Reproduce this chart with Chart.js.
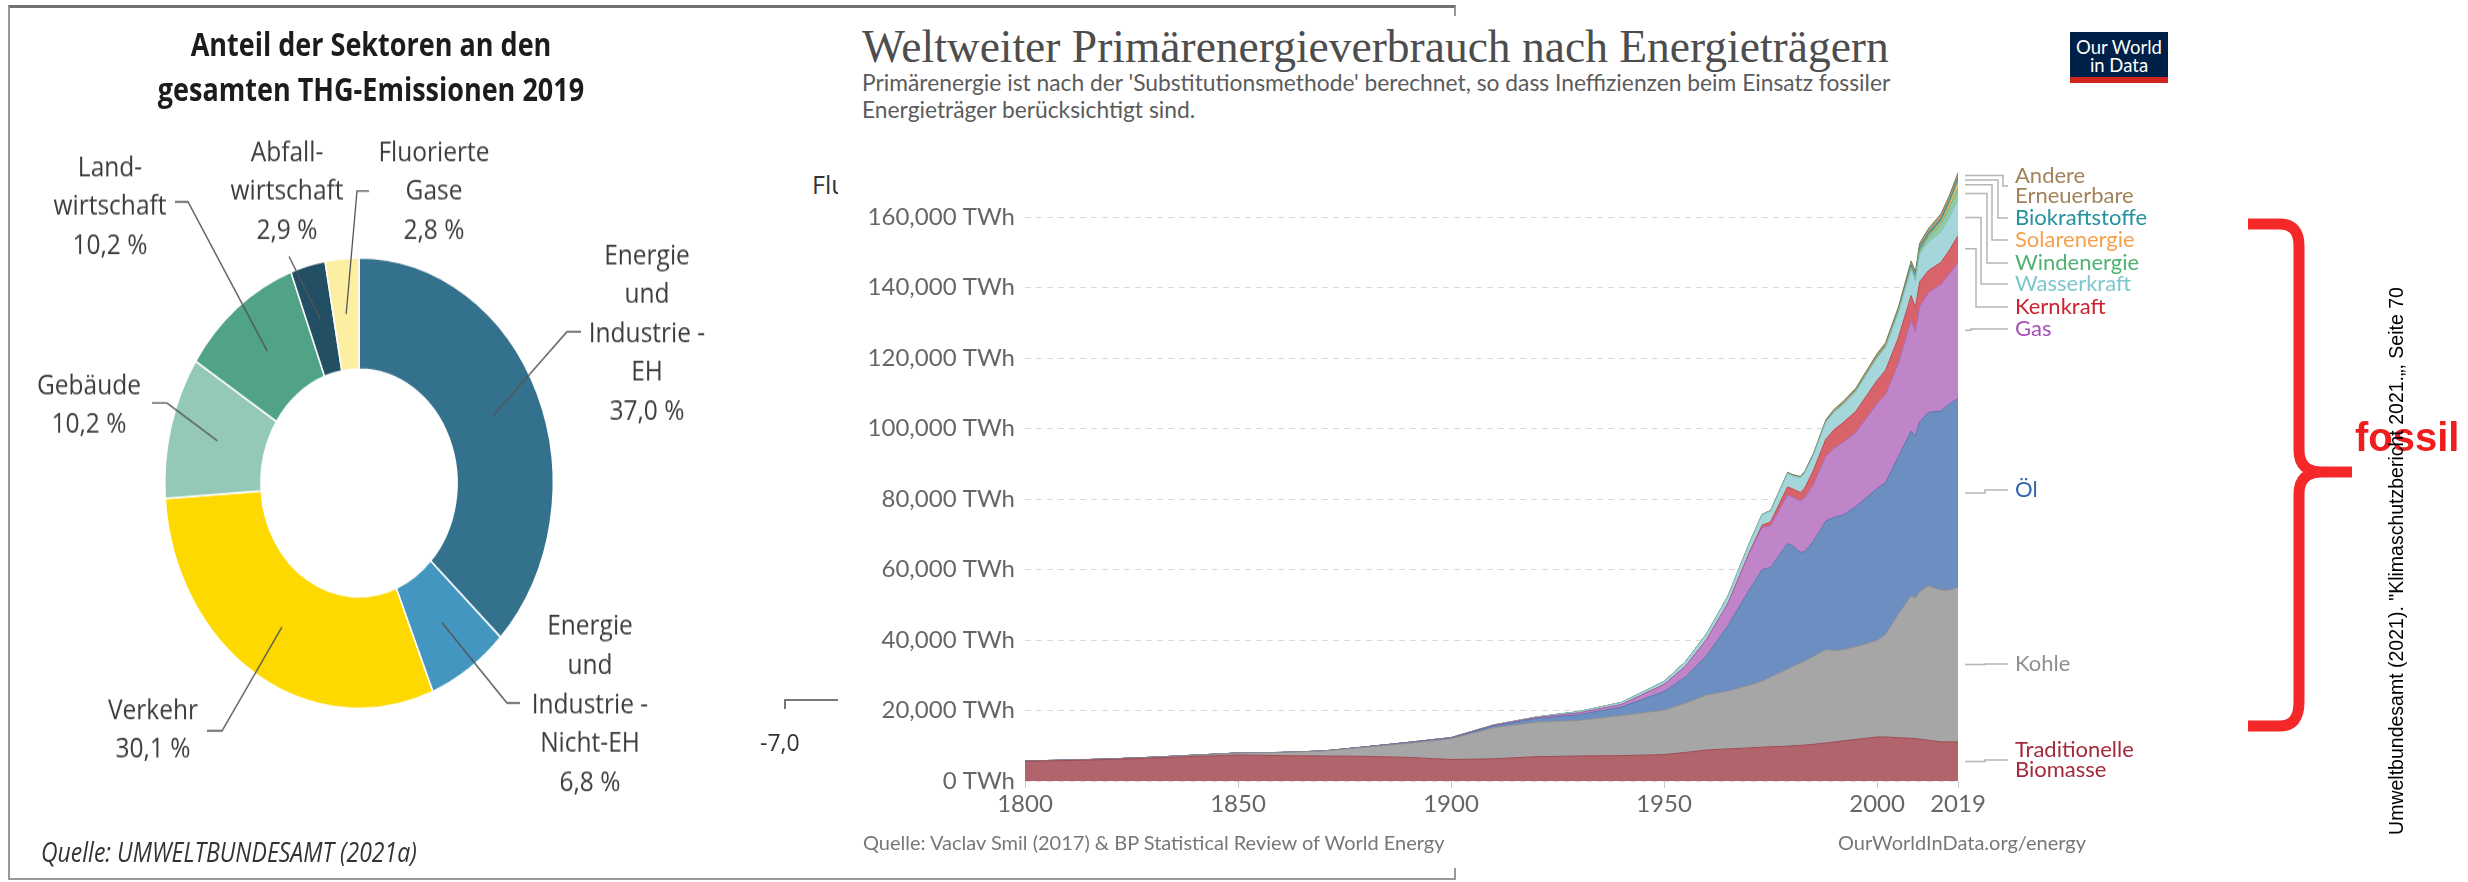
<!DOCTYPE html>
<html lang="de">
<head>
<meta charset="utf-8">
<title>THG-Emissionen und Primärenergieverbrauch</title>
<script src="https://cdn.jsdelivr.net/npm/chart.js@4.4.1/dist/chart.umd.min.js"></script>
<style>
  html, body { margin: 0; padding: 0; background: #fff; }
  body { width: 2468px; height: 882px; position: relative; overflow: hidden; font-family: "Open Sans", sans-serif; }
  .abs { position: absolute; }
  #frame { left: 8px; top: 5px; width: 1448px; height: 875px; box-sizing: border-box;
           border: 2px solid #9a9a9a; border-top: 3px solid #707070; }
  /* the donut picture is stretched vertically in the slide */
  #left { left: 0; top: 0; width: 800px; height: 760px; transform: scaleY(1.16); transform-origin: 0 0; }
  #donutTitle { left: 0; top: 19px; width: 742px; text-align: center; font-weight: 700; font-size: 27px;
                line-height: 38.8px; color: #1c1c1c; }
  #donutSource { left: 41px; top: 720px; font-style: italic; font-size: 23px; line-height: 29px; color: #333; }
  #under1 { left: 812px; top: 168px; font-size: 25px; line-height: 32px; color: #333; white-space: nowrap; }
  #under2 { left: 760px; top: 727px; font-size: 23px; line-height: 30px; color: #333; }
  #underTick { left: 784px; top: 699px; width: 60px; height: 8px; border-top: 2px solid #777; border-left: 2px solid #777; }
  #owidBg { left: 838px; top: 16px; width: 1362px; height: 852px; background: #fff; }
  #owidTitle { left: 862px; top: 21px; font-family: "Liberation Serif", serif; font-size: 45.5px; line-height: 52px; color: #4d4d4d; white-space: nowrap; }
  #owidSub { left: 862px; top: 69px; font-family: Lato, sans-serif; font-size: 22.8px; line-height: 27px; color: #5b5b5b; white-space: nowrap; }
  #logo { left: 2070px; top: 32px; width: 98px; height: 45px; background: #002147; color: #fff; text-align: center;
          font-family: Lato, sans-serif; font-size: 18.5px; line-height: 18px; padding-top: 6px; box-sizing: border-box; }
  #logoBar { left: 2070px; top: 77px; width: 98px; height: 6px; background: #ce261e; }
  #srcL { left: 863px; top: 830px; font-family: Lato, sans-serif; font-size: 20px; line-height: 24px; color: #777; white-space: nowrap; }
  #srcR { left: 1838px; top: 830px; font-family: Lato, sans-serif; font-size: 20px; line-height: 24px; color: #777; white-space: nowrap; }
  #energy { left: 845px; top: 140px; }
  #fossil { left: 2355px; top: 413px; font-family: "Liberation Sans", sans-serif; font-weight: 700; font-size: 40px;
            line-height: 48px; color: #f01d1d; }
  #cite { left: 2096px; top: 549px; width: 600px; height: 24px; text-align: center; transform: rotate(-90deg);
          font-family: "Liberation Sans", sans-serif; font-size: 19.5px; line-height: 24px; color: #000; white-space: nowrap; }
</style>
</head>
<body>

<div id="frame" class="abs"></div>

<div id="left" class="abs">
  <div id="donutTitle" class="abs">Anteil der Sektoren an den<br>gesamten THG-Emissionen 2019</div>
  <canvas id="donut" class="abs" width="800" height="760" style="left:0;top:0"></canvas>
  <div id="donutSource" class="abs">Quelle: UMWELTBUNDESAMT (2021a)</div>
</div>

<div id="under1" class="abs">Fluorierte Gase</div>
<div id="under2" class="abs">-7,0</div>
<div id="underTick" class="abs"></div>

<div id="owidBg" class="abs"></div>
<div id="owidTitle" class="abs">Weltweiter Primärenergieverbrauch nach Energieträgern</div>
<div id="owidSub" class="abs">Primärenergie ist nach der 'Substitutionsmethode' berechnet, so dass Ineffizienzen beim Einsatz fossiler<br>Energieträger berücksichtigt sind.</div>
<div id="logo" class="abs">Our World<br>in Data</div>
<div id="logoBar" class="abs"></div>
<canvas id="energy" class="abs" width="1320" height="700"></canvas>
<div id="srcL" class="abs">Quelle: Vaclav Smil (2017) &amp; BP Statistical Review of World Energy</div>
<div id="srcR" class="abs">OurWorldInData.org/energy</div>

<svg class="abs" style="left:0;top:0" width="2468" height="882">
  <path d="M2248 224 L2280 224 Q2299 224 2299 246 L2299 450 Q2299 472 2322 472 L2352 472 M2322 472 Q2299 472 2299 494 L2299 702 Q2299 726 2280 726 L2248 726"
        fill="none" stroke="#f42828" stroke-width="11" stroke-linejoin="round"/>
</svg>
<div id="fossil" class="abs">fossil</div>
<div id="cite" class="abs">Umweltbundesamt (2021). "Klimaschutzbericht 2021.„, Seite 70</div>

<script>
// Anteil der Sektoren an den THG-Emissionen 2019 (%)
const sectors = ["Energie und Industrie - EH", "Energie und Industrie - Nicht-EH", "Verkehr", "Gebäude",
                 "Landwirtschaft", "Abfallwirtschaft", "Fluorierte Gase"];
const sectorLines = [["Energie", "und", "Industrie -", "EH"], ["Energie", "und", "Industrie -", "Nicht-EH"],
                     ["Verkehr"], ["Gebäude"], ["Land-", "wirtschaft"], ["Abfall-", "wirtschaft"], ["Fluorierte", "Gase"]];
const shares = [37.0, 6.8, 30.1, 10.2, 10.2, 2.9, 2.8];
const sectorColors = ["#34718d", "#4396c0", "#fdd900", "#95c9b7", "#50a386", "#224f63", "#fcefa2"];

// Primärenergieverbrauch nach Energieträgern (TWh)
const years = [1800, 1810, 1820, 1830, 1840, 1850, 1860, 1870, 1880, 1890, 1900, 1910, 1920, 1930, 1940, 1950,
               1955, 1960, 1965, 1970, 1973, 1975, 1979, 1980, 1982, 1983, 1985, 1988, 1990, 1992, 1995,
               2000, 2002, 2005, 2008, 2009, 2010, 2012, 2015, 2017, 2019];
const biomasse = [5600, 5800, 6100, 6500, 7000, 7400, 7200, 7100, 7000, 6700, 6100, 6300, 6900, 7100, 7200, 7500,
                  8100, 8800, 9100, 9400, 9600, 9700, 9900, 10000, 10100, 10200, 10400, 10800, 11100, 11400, 11800,
                  12500, 12500, 12300, 12100, 12000, 11900, 11600, 11100, 11100, 11100];
const kohle = [100, 130, 170, 250, 350, 550, 900, 1400, 2600, 4000, 5900, 8800, 9800, 10100, 11400, 12600,
               14000, 15600, 16400, 17800, 18700, 19800, 21900, 22400, 23400, 23800, 24900, 26500, 25900, 25900, 26300,
               27400, 29100, 35000, 40400, 39900, 41800, 43800, 43100, 43100, 43900];
const oel = [0, 0, 0, 0, 0, 0, 10, 20, 100, 200, 200, 500, 1000, 1600, 2400, 5300,
             7400, 11200, 18600, 27000, 31700, 31100, 35600, 34500, 31400, 31100, 32700, 36500, 37900, 38200, 39800,
             43100, 43100, 44800, 46800, 46000, 48200, 49200, 50800, 52900, 53500];
const gas = [0, 0, 0, 0, 0, 0, 0, 0, 0, 50, 70, 200, 250, 500, 700, 2000,
             3000, 4600, 6300, 10400, 12000, 11900, 13800, 13800, 14600, 15300, 16100, 18500, 19600, 20600, 21000,
             24100, 25000, 26500, 31500, 29600, 32700, 33900, 36000, 36800, 38800];
const kernkraft = [0, 0, 0, 0, 0, 0, 0, 0, 0, 0, 0, 0, 0, 0, 0, 0,
                   0, 10, 60, 240, 600, 1000, 2300, 2300, 2400, 2700, 3900, 4800, 5300, 5600, 6000,
                   6600, 6900, 7200, 7000, 6900, 7100, 6300, 6200, 6800, 7500];
const wasserkraft = [0, 0, 0, 0, 0, 0, 0, 0, 0, 20, 50, 100, 200, 400, 600, 900,
                     1300, 1600, 2000, 2500, 2950, 3100, 3800, 3700, 4150, 4300, 4200, 4800, 5000, 5100, 5600,
                     6400, 6500, 7100, 7500, 7600, 7900, 8100, 8600, 9200, 10300];
const wind = [0, 0, 0, 0, 0, 0, 0, 0, 0, 0, 0, 0, 0, 0, 0, 0,
              0, 0, 0, 0, 0, 0, 0, 0, 0, 0, 0, 0, 10, 15, 20,
              100, 160, 280, 550, 700, 900, 1400, 2200, 2900, 3300];
const solar = [0, 0, 0, 0, 0, 0, 0, 0, 0, 0, 0, 0, 0, 0, 0, 0,
               0, 0, 0, 0, 0, 0, 0, 0, 0, 0, 0, 0, 0, 0, 1,
               3, 5, 10, 30, 50, 100, 250, 600, 1000, 1600];
const biokraftstoffe = [0, 0, 0, 0, 0, 0, 0, 0, 0, 0, 0, 0, 0, 0, 0, 0,
                        0, 0, 0, 0, 0, 5, 20, 30, 50, 60, 80, 90, 100, 110, 150,
                        150, 180, 300, 600, 700, 800, 850, 950, 1000, 1100];
const andere = [0, 0, 0, 0, 0, 0, 0, 0, 0, 0, 0, 0, 0, 0, 0, 0,
                20, 40, 50, 150, 150, 200, 300, 300, 350, 400, 500, 600, 700, 750, 800,
                900, 950, 1000, 1100, 1150, 1200, 1300, 1400, 1450, 1500];

const seriesNames = ["Traditionelle Biomasse", "Kohle", "Öl", "Gas", "Kernkraft", "Wasserkraft",
                     "Windenergie", "Solarenergie", "Biokraftstoffe", "Andere Erneuerbare"];
const seriesValues = [biomasse, kohle, oel, gas, kernkraft, wasserkraft, wind, solar, biokraftstoffe, andere];
const fillColors = ["#b1646b", "#a6a6a6", "#6d8ec0", "#c084c9", "#d8636a", "#a5d6da", "#8fcb9f", "#f7c06e", "#4ea6b0", "#b59a72"];
const lineColors = ["#9c4a53", "#8e8e8e", "#5877ab", "#a866b2", "#c24a52", "#86c0c6", "#69b180", "#e9a243", "#2f8d99", "#767a4e"];
const labelColors = ["#a32a3b", "#8f8f8f", "#3663ad", "#a651b9", "#cf2230", "#7cc6ce", "#4fb271", "#f5a14a", "#24929e", "#a2825b"];

const xTicks = [1800, 1850, 1900, 1950, 2000, 2019];
const yTicks = [0, 20000, 40000, 60000, 80000, 100000, 120000, 140000, 160000];

// label placement (pixels) for the donut: text centre + leader start/elbow
const donutLayout = [
  { x: 647, y: 220.7, from: [581, 286], elbow: [567, 286] },
  { x: 590, y: 540.5, from: [520, 606], elbow: [507, 606] },
  { x: 153, y: 612.9, from: [207, 630], elbow: [222, 630] },
  { x: 89,  y: 332.8, from: [152, 347.4], elbow: [167, 347.4] },
  { x: 110, y: 144.8, from: [175, 174], elbow: [188, 174] },
  { x: 287, y: 131.9, from: [289, 221], elbow: null },
  { x: 434, y: 131.9, from: [369, 164.7], elbow: [357, 164.7] }
];

const donutLabels = {
  id: "donutLabels",
  afterDraw(chart) {
    const ctx = chart.ctx;
    const arcs = chart.getDatasetMeta(0).data;
    ctx.save();
    ctx.strokeStyle = "#555";
    ctx.lineWidth = 1.3;
    ctx.font = "24.5px 'Open Sans'";
    ctx.fillStyle = "#3c3c3c";
    ctx.textAlign = "center";
    ctx.textBaseline = "middle";
    arcs.forEach((arc, i) => {
      const p = arc.tooltipPosition();
      const L = donutLayout[i];
      ctx.beginPath();
      ctx.moveTo(L.from[0], L.from[1]);
      if (L.elbow) ctx.lineTo(L.elbow[0], L.elbow[1]);
      ctx.lineTo(p.x, p.y);
      ctx.stroke();
      const lines = sectorLines[i].concat([shares[i].toFixed(1).replace(".", ",") + " %"]);
      lines.forEach((t, k) => ctx.fillText(t, L.x, L.y + k * 33.6));
    });
    ctx.restore();
  }
};

new Chart(document.getElementById("donut"), {
  type: "doughnut",
  data: {
    labels: sectors,
    datasets: [{ data: shares, backgroundColor: sectorColors, borderColor: "#fff", borderWidth: 1.5 }]
  },
  options: {
    responsive: false,
    animation: false,
    cutout: "50.5%",
    layout: { padding: { left: 164, right: 246, top: 221.4, bottom: 148.6 } },
    plugins: { legend: { display: false }, tooltip: { enabled: false } }
  },
  plugins: [donutLabels]
});

// right-hand labels of the energy chart (page y minus canvas top 140)
const labelY = [620, 524, 350, 189, 167, 144, 123, 100, 78, 46];
const elbowX = [null, null, null, 1126, 1131, 1136, 1142, 1147, 1153, 1158];
const labelX = 1170;

const energyLabels = {
  id: "energyLabels",
  afterDraw(chart) {
    const ctx = chart.ctx;
    const area = chart.chartArea;
    const x0 = area.right + 7;
    let prevTop = area.bottom;
    ctx.save();
    ctx.font = "22px Lato";
    ctx.textAlign = "left";
    ctx.textBaseline = "middle";
    ctx.lineWidth = 1.5;
    ctx.strokeStyle = "#b5b5b5";
    chart.data.datasets.forEach((ds, i) => {
      const pts = chart.getDatasetMeta(i).data;
      const top = pts[pts.length - 1].y;
      const mid = (top + prevTop) / 2;
      prevTop = top;
      const ly = labelY[i];
      const ex = elbowX[i] !== null ? elbowX[i] : 1140;
      ctx.beginPath();
      ctx.moveTo(x0, mid);
      ctx.lineTo(ex, mid);
      ctx.lineTo(ex, ly);
      ctx.lineTo(labelX - 7, ly);
      ctx.stroke();
      const words = seriesNames[i].split(" ");
      ctx.fillStyle = labelColors[i];
      words.forEach((w, k) => ctx.fillText(w, labelX, ly + (k - (words.length - 1) / 2) * 20));
    });
    ctx.restore();
  }
};

new Chart(document.getElementById("energy"), {
  type: "line",
  data: {
    datasets: seriesNames.map((name, i) => ({
      label: name,
      data: years.map((y, k) => ({ x: y, y: seriesValues[i][k] })),
      backgroundColor: fillColors[i],
      borderColor: lineColors[i],
      borderWidth: 1,
      fill: i === 0 ? "origin" : "-1",
      pointRadius: 0,
      tension: 0
    }))
  },
  options: {
    responsive: false,
    animation: false,
    layout: { padding: { top: 19, right: 207, left: 0, bottom: 0 } },
    plugins: { legend: { display: false }, tooltip: { enabled: false } },
    scales: {
      x: {
        type: "linear",
        min: 1800,
        max: 2019,
        afterBuildTicks: (s) => { s.ticks = xTicks.map(v => ({ value: v })); },
        afterFit: (s) => { s.height = 59; },
        ticks: { autoSkip: false, maxRotation: 0, padding: 2, color: "#666",
                 font: { family: "Lato", size: 24 }, callback: (v) => String(v) },
        grid: { drawOnChartArea: false, tickLength: 7, color: "#c8c8c8" },
        border: { display: false }
      },
      y: {
        stacked: true,
        min: 0,
        max: 175000,
        afterBuildTicks: (s) => { s.ticks = yTicks.map(v => ({ value: v })); },
        afterFit: (s) => { s.width = 180; },
        ticks: { padding: 10, color: "#666", font: { family: "Lato", size: 24 },
                 callback: (v) => v.toLocaleString("en-US") + " TWh" },
        grid: { color: "#dadada", drawTicks: false },
        border: { display: false, dash: [6, 5] }
      }
    }
  },
  plugins: [energyLabels]
});
</script>
</body>
</html>
